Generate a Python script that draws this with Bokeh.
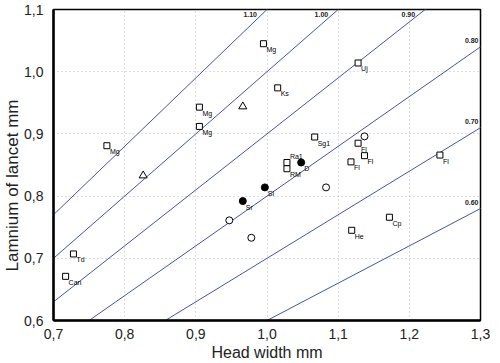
from bokeh.plotting import figure
from bokeh.models import FixedTicker, CustomJSTickFormatter, ColumnDataSource, Range1d, Title
from bokeh.core.properties import value
from bokeh.embed import file_html
from bokeh.resources import INLINE

# ---- data ----
x_ticks = [0.7, 0.8, 0.9, 1.0, 1.1, 1.2, 1.3]
y_ticks = [0.6, 0.7, 0.8, 0.9, 1.0, 1.1]

ratios = [1.10, 1.00, 0.90, 0.80, 0.70, 0.60]
ratio_labels = ["1.10", "1.00", "0.90", "0.80", "0.70", "0.60"]

sq_x = [0.775, 0.905, 0.905, 0.995, 1.015, 1.128, 1.067, 1.028, 1.028,
        1.128, 1.137, 1.118, 1.243, 1.172, 1.119, 0.728, 0.717]
sq_y = [0.881, 0.943, 0.912, 1.045, 0.974, 1.014, 0.895, 0.854, 0.844,
        0.885, 0.865, 0.855, 0.866, 0.766, 0.745, 0.707, 0.671]
sq_lab = ["Mg", "Mg", "Mg", "Mg", "Ks", "Uj", "Sg1", "Ra1", "RM",
          "Fl", "Fl", "Fl", "Fl", "Cp", "He", "Td", "Can"]

fc_x = [1.048, 0.997, 0.966]
fc_y = [0.854, 0.814, 0.792]
fc_lab = ["D", "Sl", "Sr"]

oc_x = [1.137, 1.083, 0.947, 0.978]
oc_y = [0.896, 0.814, 0.761, 0.733]

tri_x = [0.966, 0.826]
tri_y = [0.944, 0.833]

x_label = "Head width mm"
y_label = "Lamnium of lancet mm"

# ---- figure ----
FONT = "Liberation Sans"
p = figure(width=492, height=363, output_backend="svg", toolbar_location=None,
           x_range=Range1d(0.7, 1.3), y_range=Range1d(0.6, 1.1),
           min_border_left=52, min_border_right=12, min_border_top=9, min_border_bottom=39)
p.background_fill_color = "white"
p.border_fill_color = "white"
p.outline_line_color = "black"
p.outline_line_width = 1.5

fmt = CustomJSTickFormatter(code="return tick.toFixed(1).replace('.', ',');")
for ax, ticks in ((p.xaxis, x_ticks), (p.yaxis, y_ticks)):
    ax.ticker = FixedTicker(ticks=ticks)
    ax.formatter = fmt
    ax.major_tick_line_color = None
    ax.minor_tick_line_color = None
    ax.axis_line_color = "black"
    ax.axis_line_width = 2.5
    ax.major_label_text_font = FONT
    ax.major_label_text_font_size = "14px"
    ax.major_label_text_color = "#222222"
p.xaxis.major_label_standoff = 2
p.yaxis.major_label_standoff = 4
p.xaxis.axis_label = x_label
p.xaxis.axis_label_text_font = FONT
p.xaxis.axis_label_text_font_size = "16px"
p.xaxis.axis_label_text_font_style = "normal"
p.xaxis.axis_label_standoff = 2
p.xaxis.axis_label_text_color = "#222222"

ytitle = Title(text=y_label, align="left", offset=49, text_font=FONT,
               text_font_size="17px", text_font_style="normal",
               text_color="#222222", standoff=0)
p.add_layout(ytitle, "left")

p.grid.grid_line_color = "#b8bccb"
p.grid.grid_line_dash = "1 3"
p.grid.grid_line_width = 1
p.xgrid.ticker = FixedTicker(ticks=x_ticks)
p.ygrid.ticker = FixedTicker(ticks=y_ticks)

# ratio lines
line_col = "#4454a8"
for c in ratios:
    p.line([0.5, 1.5], [0.5 * c, 1.5 * c], line_color=line_col, line_width=1)

top_src = ColumnDataSource(dict(x=[1.1 / c for c in ratios if 1.1 / c <= 1.3],
                                y=[1.1 for c in ratios if 1.1 / c <= 1.3],
                                t=[l for c, l in zip(ratios, ratio_labels) if 1.1 / c <= 1.3]))
right_src = ColumnDataSource(dict(x=[1.3 for c in ratios if 1.1 / c > 1.3],
                                  y=[1.3 * c for c in ratios if 1.1 / c > 1.3],
                                  t=[l for c, l in zip(ratios, ratio_labels) if 1.1 / c > 1.3]))
p.text("x", "y", text="t", source=top_src, text_align="right", text_baseline="top",
       x_offset=-10, y_offset=2, text_font=value(FONT), text_font_size="7px",
       text_font_style="bold", text_color="#222222")
p.text("x", "y", text="t", source=right_src, text_align="right", text_baseline="bottom",
       x_offset=-2, y_offset=-4, text_font=value(FONT), text_font_size="7px",
       text_font_style="bold", text_color="#222222")

# markers
p.scatter(sq_x, sq_y, marker="square", size=6, fill_color="white",
          line_color="black", line_width=1)
p.scatter(oc_x, oc_y, marker="circle", size=7, fill_color="white",
          line_color="black", line_width=1)
p.scatter(fc_x, fc_y, marker="circle", size=7, fill_color="black",
          line_color="black", line_width=1)
p.scatter(tri_x, tri_y, marker="triangle", size=8, fill_color="white",
          line_color="black", line_width=1)

# point labels
lab_x = sq_x + fc_x
lab_y = sq_y + fc_y
lab_t = sq_lab + fc_lab
above = {"Ra1"}
yoff = [-6 if t in above else 6 for t in lab_t]
lab_src = ColumnDataSource(dict(x=lab_x, y=lab_y, t=lab_t, yo=yoff))
p.text("x", "y", text="t", source=lab_src, text_align="left", text_baseline="middle",
       x_offset=3, y_offset="yo", text_font=value(FONT), text_font_size="7px",
       text_color="black")

open("out.html", "w").write(file_html(p, INLINE))
